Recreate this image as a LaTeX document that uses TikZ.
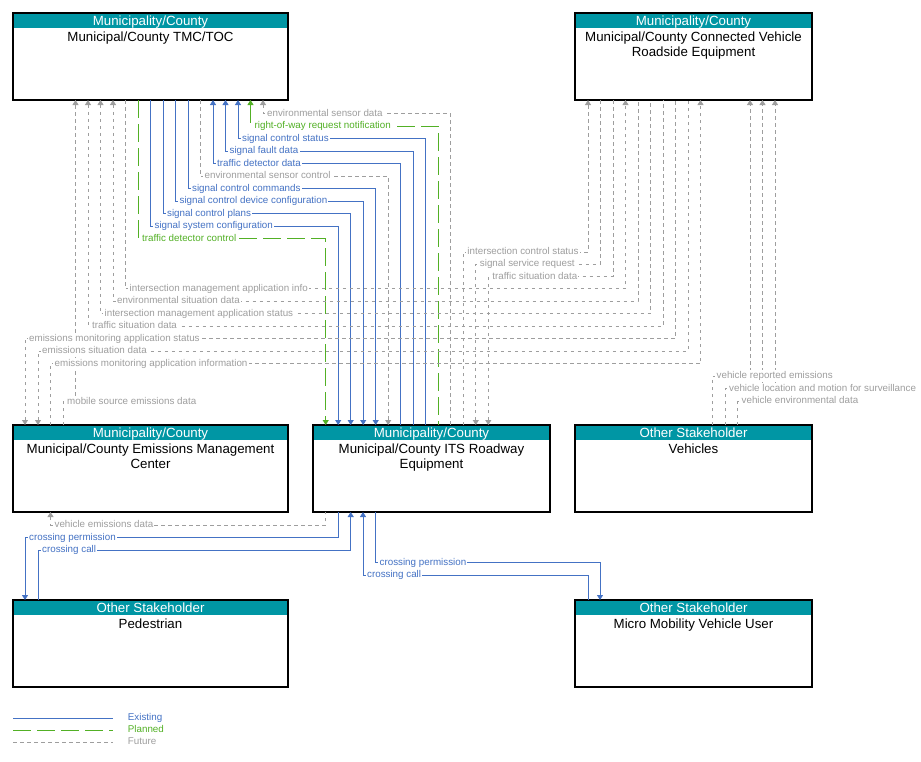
\documentclass[tikz,border=0pt]{standalone}
\usepackage{fontspec}
\setmainfont{Liberation Sans}
\usetikzlibrary{arrows.meta}
\definecolor{hdr}{RGB}{0,150,164}
\definecolor{exist}{RGB}{68,114,196}
\definecolor{plan}{RGB}{82,176,37}
\definecolor{fut}{RGB}{158,158,158}

\newcommand\sysbox[6]{%
  \node[box, minimum width=#4] (#1) at (#2,#3) {};
  \node[hdrtext] at ([yshift=-12pt]#1.north) {#5};
  \node[bodytext] at ([yshift=-17.8pt]#1.north) {\rule{0pt}{10pt}#6};
}

\begin{document}
\begin{tikzpicture}[x=1pt,y=-1pt,>={Triangle[length=5pt,width=6pt]},
  box/.style={draw, line width=1.1pt, anchor=north west, minimum height=87pt, inner sep=0pt, outer sep=0pt,
    path picture={\fill[hdr] (path picture bounding box.north west) rectangle ([yshift=-15pt]path picture bounding box.north east);}},
  hdrtext/.style={anchor=base, inner sep=0pt, text=white, font=\fontsize{13.3}{15}\selectfont},
  bodytext/.style={anchor=north, inner sep=0pt, align=center, font=\fontsize{13.3}{15}\selectfont},
  existing/.style={color=exist, line width=0.9pt},
  planned/.style={color=plan, line width=0.9pt, dash pattern=on 18pt off 6pt},
  future/.style={color=fut, line width=0.9pt, dash pattern=on 3.5pt off 3.5pt},
  lbl/.style={anchor=west, xshift=2.5pt, fill=white, inner xsep=1.2pt, inner ysep=1pt,
    text height=7.5pt, text depth=2.5pt, font=\fontsize{9.8}{10}\selectfont},
  exlbl/.style={lbl, text=exist},
  pllbl/.style={lbl, text=plan},
  fulbl/.style={lbl, text=fut}]
  \useasboundingbox (0,0) rectangle (921,761);
  %boxes
  \sysbox{tmc}{13}{13}{275}{Municipality/County}{Municipal/County TMC/TOC}
  \sysbox{cv}{575}{13}{237}{Municipality/County}{Municipal/County Connected Vehicle\\Roadside Equipment}
  \sysbox{emc}{13}{425}{275}{Municipality/County}{Municipal/County Emissions Management\\Center}
  \sysbox{its}{313}{425}{237}{Municipality/County}{Municipal/County ITS Roadway\\Equipment}
  \sysbox{veh}{575}{425}{237}{Other Stakeholder}{Vehicles}
  \sysbox{ped}{13}{600}{275}{Other Stakeholder}{Pedestrian}
  \sysbox{mmv}{575}{600}{237}{Other Stakeholder}{Micro Mobility Vehicle User}
  %tmc - its
  \draw[future,<-] (263,0 |- tmc.south) |- node[fulbl]{environmental sensor data} (450.7,113.7) -- (450.7,0 |- its.north);
  \draw[planned,<-] (250.5,0 |- tmc.south) |- node[pllbl]{right-of-way request notification} (438.2,126.2) -- (438.2,0 |- its.north);
  \draw[existing,<-] (238,0 |- tmc.south) |- node[exlbl]{signal control status} (425.7,138.7) -- (425.7,0 |- its.north);
  \draw[existing,<-] (225.5,0 |- tmc.south) |- node[exlbl]{signal fault data} (413.2,151.2) -- (413.2,0 |- its.north);
  \draw[existing,<-] (213,0 |- tmc.south) |- node[exlbl]{traffic detector data} (400.7,163.7) -- (400.7,0 |- its.north);
  \draw[future,->] (200.5,0 |- tmc.south) |- node[fulbl]{environmental sensor control} (388.2,176.2) -- (388.2,0 |- its.north);
  \draw[existing,->] (188,0 |- tmc.south) |- node[exlbl]{signal control commands} (375.7,188.7) -- (375.7,0 |- its.north);
  \draw[existing,->] (175.5,0 |- tmc.south) |- node[exlbl]{signal control device configuration} (363.2,201.2) -- (363.2,0 |- its.north);
  \draw[existing,->] (163,0 |- tmc.south) |- node[exlbl]{signal control plans} (350.7,213.7) -- (350.7,0 |- its.north);
  \draw[existing,->] (150.5,0 |- tmc.south) |- node[exlbl]{signal system configuration} (338.2,226.2) -- (338.2,0 |- its.north);
  \draw[planned,->] (138,0 |- tmc.south) |- node[pllbl]{traffic detector control} (325.7,238.7) -- (325.7,0 |- its.north);
  %tmc - cv
  \draw[future,->] (125.5,0 |- tmc.south) |- node[fulbl]{intersection management application info} (625.5,288.7) -- (625.5,0 |- cv.south);
  \draw[future,<-] (113,0 |- tmc.south) |- node[fulbl]{environmental situation data} (638,301.2) -- (638,0 |- cv.south);
  \draw[future,<-] (100.5,0 |- tmc.south) |- node[fulbl]{intersection management application status} (650.5,313.7) -- (650.5,0 |- cv.south);
  \draw[future,<-] (88,0 |- tmc.south) |- node[fulbl]{traffic situation data} (663,326.2) -- (663,0 |- cv.south);
  %emissions
  \draw[future,->] (63,0 |- emc.north) |- node[fulbl]{mobile source emissions data} (75.5,401.5) -- (75.5,0 |- tmc.south);
  \draw[future,<-] (25,0 |- emc.north) |- node[fulbl]{emissions monitoring application status} (675.5,338.7) -- (675.5,0 |- cv.south);
  \draw[future,<-] (38,0 |- emc.north) |- node[fulbl]{emissions situation data} (688,351.2) -- (688,0 |- cv.south);
  \draw[future,->] (50.5,0 |- emc.north) |- node[fulbl]{emissions monitoring application information} (700.5,363.7) -- (700.5,0 |- cv.south);
  %its - cv
  \draw[future,->] (463.3,0 |- its.north) |- node[fulbl]{intersection control status} (588,252) -- (588,0 |- cv.south);
  \draw[future,<-] (475.8,0 |- its.north) |- node[fulbl]{signal service request} (600.5,264.3) -- (600.5,0 |- cv.south);
  \draw[future,<-] (488.3,0 |- its.north) |- node[fulbl]{traffic situation data} (613,276.5) -- (613,0 |- cv.south);
  %vehicles - cv
  \draw[future,->] (737.5,0 |- veh.north) |- node[fulbl]{vehicle environmental data} (775,401.3) -- (775,0 |- cv.south);
  \draw[future,->] (725,0 |- veh.north) |- node[fulbl]{vehicle location and motion for surveillance} (762.5,388.8) -- (762.5,0 |- cv.south);
  \draw[future,->] (712.5,0 |- veh.north) |- node[fulbl]{vehicle reported emissions} (750,376.3) -- (750,0 |- cv.south);
  %below its
  \draw[future,<-] (50.5,0 |- emc.south) |- node[fulbl]{vehicle emissions data} (325.7,525) -- (325.7,0 |- its.south);
  \draw[existing,<-] (25,0 |- ped.north) |- node[exlbl]{crossing permission} (338.2,537.5) -- (338.2,0 |- its.south);
  \draw[existing,->] (38,0 |- ped.north) |- node[exlbl]{crossing call} (350.7,550) -- (350.7,0 |- its.south);
  \draw[existing,->] (375.5,0 |- its.south) |- node[exlbl]{crossing permission} (600,562.5) -- (600,0 |- mmv.north);
  \draw[existing,<-] (363,0 |- its.south) |- node[exlbl]{crossing call} (588,575) -- (588,0 |- mmv.north);
  %legend
  \coordinate (lgexa) at (13,718);
  \coordinate (lgpla) at (13,730);
  \coordinate (lgfua) at (13,742);
  \node[exlbl, xshift=0pt, fill=none] (lgex) at (124,718) {Existing};
  \node[pllbl, xshift=0pt, fill=none] (lgpl) at (124,730) {Planned};
  \node[fulbl, xshift=0pt, fill=none] (lgfu) at (124,742) {Future};
  \draw[existing] (lgexa) -- ++(100,0);
  \draw[planned] (lgpla) -- ++(100,0);
  \draw[future] (lgfua) -- ++(100,0);
\end{tikzpicture}
\end{document}
